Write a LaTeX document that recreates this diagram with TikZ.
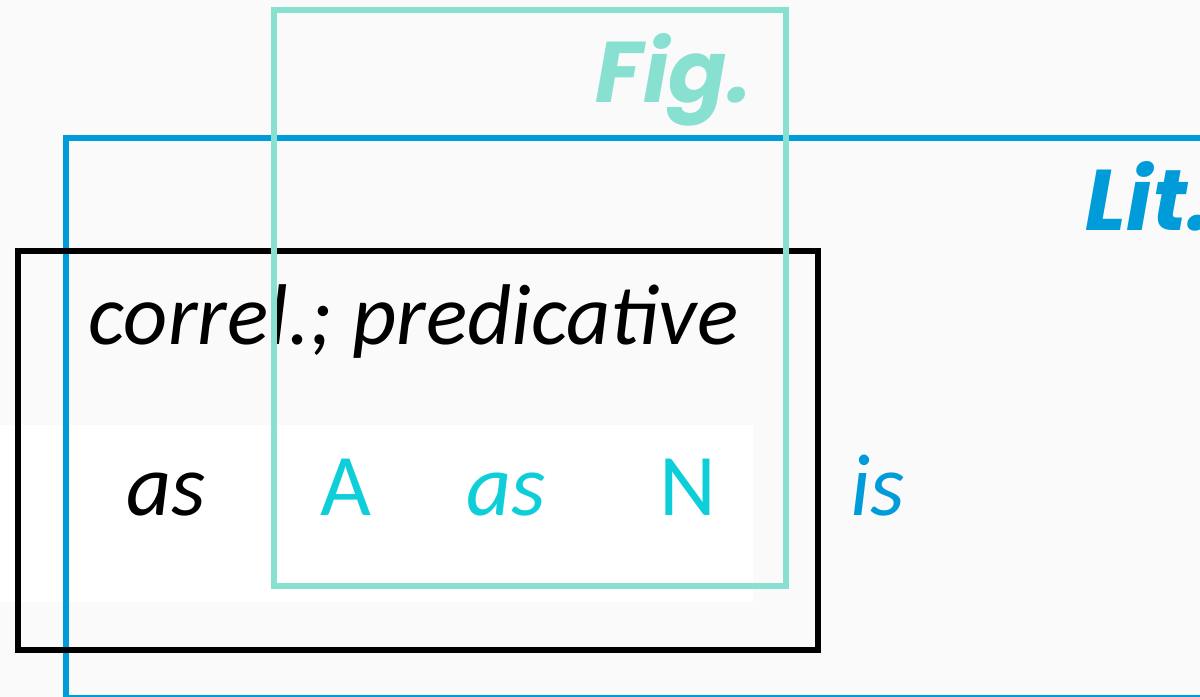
\documentclass[tikz,border=0pt]{standalone}
\usepackage{fontspec}
\setmainfont{Carlito}
\newfontfamily\handfont{Poppins}

\definecolor{paper}{HTML}{FAFAFA}
\definecolor{figteal}{HTML}{88E0D0}
\definecolor{wordteal}{HTML}{0ECFD9}
\definecolor{litblue}{HTML}{009BD9}

\tikzset{
  box/.style={line width=1.45pt},
  word/.style={anchor=base, inner sep=0pt, font=\itshape\fontsize{25}{30}\selectfont},
  tag/.style={anchor=base east, inner sep=0pt, font=\handfont\bfseries\itshape\fontsize{24.5}{30}\selectfont}
}

\begin{document}
\begin{tikzpicture}[x=0.01cm, y=-0.01cm]
    \useasboundingbox (0,0) rectangle (1200,697);
    \clip (0,0) rectangle (1200,697);

    % Paper and the white strip under the phrase
    \fill[paper] (0,0) rectangle (1200,697);
    \fill[white] (0,425) rectangle (753,602);

    % Labels of the two readings
    \node[tag, text=figteal] (fig) at (752,102) {Fig.};
    \node[tag, text=litblue] (lit) at (1212,230) {Lit.};

    % Construction and its words
    \node[word, anchor=base west, font=\itshape\fontsize{24.5}{30}\selectfont]
        (correl) at (88,344) {correl.; predicative};
    \node[word] (as1) at (166,515) {as};
    \node[word, text=wordteal, font=\fontsize{25}{30}\selectfont] (adj) at (346,515) {A};
    \node[word, text=wordteal] (as2) at (506,515) {as};
    \node[word, text=wordteal, font=\fontsize{25}{30}\selectfont] (noun) at (688,515) {N};
    \node[word, text=litblue] (is) at (878,515) {is};

    % Boxes
    \draw[box, litblue] (66,138) rectangle (1230,698);
    \draw[box, black] (18,251) rectangle (818,650);
    \draw[box, figteal] (274,10) rectangle (786,586);

\end{tikzpicture}
\end{document}
